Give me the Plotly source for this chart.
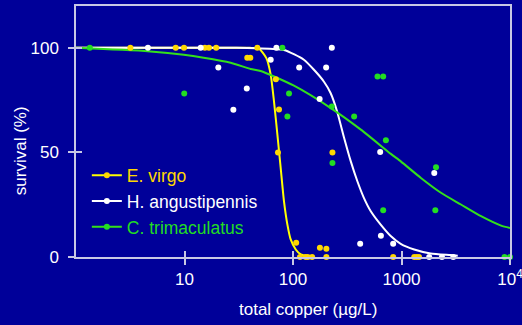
import plotly.graph_objects as go

# ---------------- data ----------------
species = ["E. virgo", "H. angustipennis", "C. trimaculatus"]

# observed survival points
ev_x = [3.17, 8.3, 9.9, 15.4, 16.8, 19.6, 46.9, 37.9, 40.4, 69.5, 74.3, 72.7, 231,
        107, 177, 203, 116, 131, 137, 150, 203, 838, 1310, 1380, 1450]
ev_y = [100, 100, 100, 100, 100, 100, 100, 95.3, 95.3, 85, 70.5, 50, 50,
        6.8, 4.4, 3.9, 0, 0, 0, 0, 0, 0, 0, 0, 0]

ha_x = [4.6, 14.1, 70.3, 228, 62.3, 20.5, 114, 202, 37.5, 176, 28.2, 636, 2005,
        646, 416, 838, 1800, 2360, 3000]
ha_y = [100, 100, 100, 100, 94.3, 90.6, 90.6, 90.6, 80.6, 75.5, 70.4, 50.2, 40.2,
        10.1, 6.3, 6.3, 0, 0, 0]

ct_x = [1.34, 79.8, 601, 678, 9.94, 91.9, 228, 88.8, 366, 718, 231, 2080, 678,
        2050, 8900, 10000]
ct_y = [100, 100, 86.3, 86.3, 78.2, 78.2, 72, 67.2, 67.2, 55.8, 45, 42.9, 22.4,
        22.4, 0, 0]

# fitted dose-response curves
ev_cx = [1, 20, 40, 48.5, 56.8, 62.3, 66.8, 71.8, 77, 82.6, 88.8, 95.2, 106, 118, 136, 150]
ev_cy = [100, 100, 100, 99.6, 95.1, 87.2, 74.4, 58.5, 42.6, 26.6, 15.5, 8.4, 3.6, 1.2, 0.4, 0.2]

ha_cx = [1, 10, 30, 46.9, 82.6, 126, 156, 193, 222, 255, 296, 341, 392, 450, 521,
         643, 800, 983, 1310, 1855, 2830, 3300]
ha_cy = [100, 100, 100, 99.8, 99, 94.3, 89.5, 83.8, 78.4, 69.6, 56.9, 45.7, 36.2,
         28.3, 21.9, 15.5, 9.9, 6.3, 3.6, 1.7, 0.9, 0.6]

ct_cx = [1, 1.79, 2.66, 4.85, 9.86, 15, 26.6, 40.7, 50.3, 101, 223, 422, 798, 991,
         1510, 2310, 3530, 5410, 8280, 10000]
ct_cy = [100, 99.4, 99.1, 98.3, 96.7, 95.3, 92.9, 89.9, 88.9, 82, 71.2, 60.9, 49.3,
         45.6, 37.8, 30.7, 25.1, 19.5, 15.0, 13.9]

x_tickvals = [10, 100, 1000, 10000]
x_ticktext = ["10", "100", "1000", "10<sup>4</sup>"]
y_tickvals = [0, 50, 100]
y_ticktext = ["0", "50", "100"]

# ---------------- style ----------------
BG = "#000099"
FRAME = "rgb(200,200,228)"
TXT = "#ffffff"
FONT = "Liberation Sans, Arial, sans-serif"
line_cols = ["#ffff00", "#ffffff", "#33e01a"]
pt_cols = ["#ffd800", "#ffffff", "#22dd22"]

fig = go.Figure()

curves = [(ev_cx, ev_cy), (ha_cx, ha_cy), (ct_cx, ct_cy)]
points = [(ev_x, ev_y), (ha_x, ha_y), (ct_x, ct_y)]

for i, name in enumerate(species):
    cx, cy = curves[i]
    fig.add_trace(go.Scatter(
        x=cx, y=cy, mode="lines",
        line=dict(color=line_cols[i], width=2, shape="spline", smoothing=0.6),
        showlegend=False, hoverinfo="skip"))
# observed points on the overlay axes (also carries the inner tick marks)
for i, name in enumerate(species):
    px, py = points[i]
    fig.add_trace(go.Scatter(
        x=px, y=py, mode="markers", marker=dict(color=pt_cols[i], size=6),
        xaxis="x2", yaxis="y2",
        cliponaxis=False, showlegend=False, name=name))
# legend entries
for i, name in enumerate(species):
    fig.add_trace(go.Scatter(
        x=[None], y=[None], mode="lines+markers",
        line=dict(color=line_cols[i], width=2),
        marker=dict(color=pt_cols[i], size=6),
        name=f"<span style='color:{pt_cols[i]}'>{name}</span>"))

axis_font = dict(family=FONT, size=17, color=TXT)

fig.update_layout(
    width=522, height=325,
    margin=dict(l=76, r=12, t=6, b=67.5, pad=0, autoexpand=False),
    paper_bgcolor=BG, plot_bgcolor=BG,
    font=dict(family=FONT, size=17, color=TXT),
    showlegend=True,
    legend=dict(x=0.025, y=0.397, xanchor="left", yanchor="top",
                bgcolor="rgba(0,0,0,0)", borderwidth=0,
                font=dict(family=FONT, size=17.5), itemwidth=30,
                tracegroupgap=0),
    xaxis=dict(type="log", range=[0, 4], showgrid=False, zeroline=False,
               showline=True, mirror=True, linecolor=FRAME, linewidth=1.5,
               ticks="outside", ticklen=6, tickwidth=1.5, tickcolor=FRAME,
               tickvals=x_tickvals, ticktext=x_ticktext, tickfont=axis_font,
               ticklabeloverflow="allow", automargin=False),
    yaxis=dict(range=[0, 120], showgrid=False, zeroline=False,
               showline=True, mirror=True, linecolor=FRAME, linewidth=1.5,
               ticks="outside", ticklen=6, tickwidth=1.5, tickcolor=FRAME,
               tickvals=y_tickvals, ticktext=y_ticktext, tickfont=axis_font,
               ticklabelstandoff=6, automargin=False),
    xaxis2=dict(type="log", range=[0, 4], overlaying="x", anchor="y2", side="bottom",
                showgrid=False, zeroline=False, showline=False,
                ticks="inside", ticklen=6, tickwidth=1.5, tickcolor=FRAME,
                tickvals=x_tickvals[:-1], showticklabels=False, automargin=False),
    yaxis2=dict(range=[0, 120], overlaying="y", anchor="x2", side="left",
                showgrid=False, zeroline=False, showline=False,
                ticks="inside", ticklen=6, tickwidth=1.5, tickcolor=FRAME,
                tickvals=y_tickvals, showticklabels=False, automargin=False),
    annotations=[
        dict(text="total copper (µg/L)", xref="paper", yref="paper", x=0.535, y=-0.21,
             xanchor="center", yanchor="middle", showarrow=False,
             font=dict(family=FONT, size=17, color=TXT)),
        dict(text="survival (%)", xref="paper", yref="paper", x=-0.128, y=0.4235,
             xanchor="center", yanchor="middle", showarrow=False, textangle=-90,
             font=dict(family=FONT, size=17, color=TXT)),
    ],
)

fig.write_html("out.html")
